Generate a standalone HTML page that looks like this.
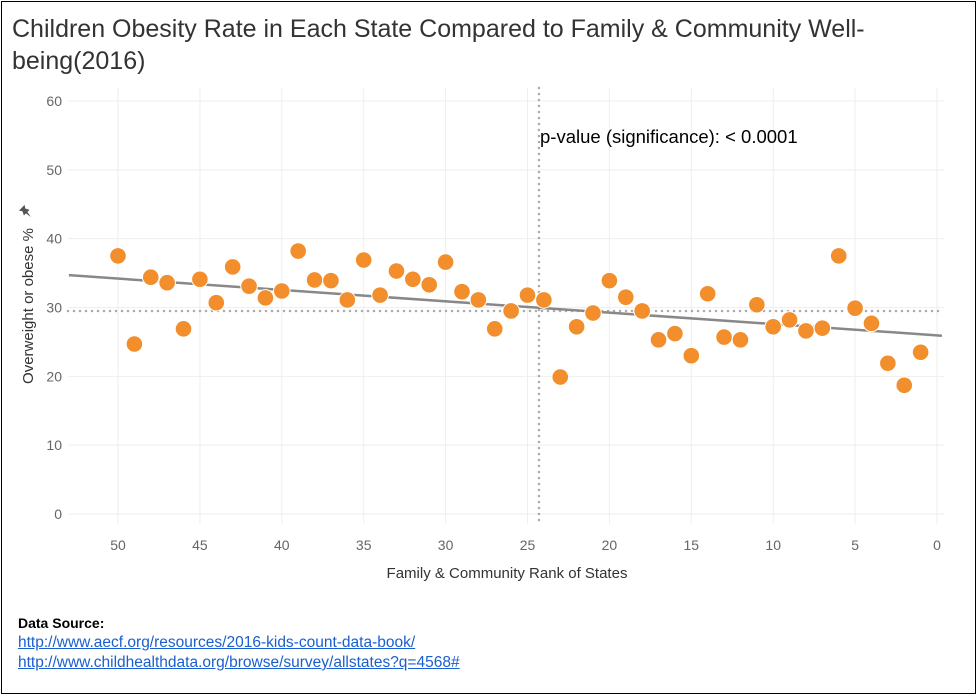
<!DOCTYPE html>
<html><head><meta charset="utf-8"><style>
body{margin:0;background:#fff;font-family:"Liberation Sans",sans-serif}
#frame{position:absolute;left:1px;top:1px;width:975px;height:693px;border:1px solid #000;box-sizing:border-box}
h1{position:absolute;left:12px;top:13px;margin:0;font-weight:normal;font-size:25px;line-height:32px;color:#333;width:880px}
.src{position:absolute;left:18px;font-size:15.5px}
a{color:#1a5fd0;text-decoration:underline}
</style></head><body>
<div id="frame"></div>
<h1>Children Obesity Rate in Each State Compared to Family &amp; Community Well-being(2016)</h1>
<svg id="c" width="979" height="697" style="position:absolute;left:0;top:0"></svg>
<div class="src" style="top:615px;font-size:14px;font-weight:bold;color:#000">Data Source:</div>
<div class="src" style="top:634px"><a>http://www.aecf.org/resources/2016-kids-count-data-book/</a></div>
<div class="src" style="top:654px"><a>http://www.childhealthdata.org/browse/survey/allstates?q=4568#</a></div>
<script>
const ranks=[50,49,48,47,46,45,44,43,42,41,40,39,38,37,36,35,34,33,32,31,30,29,28,27,26,25,24,23,22,21,20,19,18,17,16,15,14,13,12,11,10,9,8,7,6,5,4,3,2,1];
const obesity=[37.5,24.7,34.4,33.6,26.9,34.1,30.7,35.9,33.1,31.4,32.4,38.2,34.0,33.9,31.1,36.9,31.8,35.3,34.1,33.3,36.6,32.3,31.1,26.9,29.5,31.8,31.1,19.9,27.2,29.2,33.9,31.5,29.5,25.3,26.2,23.0,32.0,25.7,25.3,30.4,27.2,28.2,26.6,27.0,37.5,29.9,27.7,21.9,18.7,23.5];
const xTicks=[50,45,40,35,30,25,20,15,10,5,0];
const yTicks=[0,10,20,30,40,50,60];
const trend=[[53,34.7],[-0.3,25.9]];
const meanY=29.5, meanX=24.3;
const X=v=>937-v*16.38, Y=v=>514-v*6.883;
const svg=document.getElementById('c');const NS='http://www.w3.org/2000/svg';
function el(t,a,txt){const e=document.createElementNS(NS,t);for(const k in a)e.setAttribute(k,a[k]);if(txt!=null)e.textContent=txt;svg.appendChild(e);return e;}
yTicks.forEach(t=>{const g=el('line',{x1:68,x2:944,y1:Y(t),y2:Y(t),stroke:'#eee'});

const l=el('text',{x:62,y:Y(t)+5,'text-anchor':'end','font-size':14,fill:'#666'},t);
});
xTicks.forEach(t=>{const g=el('line',{x1:X(t),x2:X(t),y1:88,y2:524,stroke:'#eee'});

const l=el('text',{x:X(t),y:550,'text-anchor':'middle','font-size':14,fill:'#666'},t);
});
const ml=el('line',{x1:68,x2:944,y1:Y(meanY),y2:Y(meanY),stroke:'#aaa','stroke-width':2.5,'stroke-dasharray':'0 6','stroke-linecap':'round'});

const mv=el('line',{x1:X(meanX),x2:X(meanX),y1:88,y2:524,stroke:'#aaa','stroke-width':2.5,'stroke-dasharray':'0 6','stroke-linecap':'round'});

const tl=el('line',{x1:X(trend[0][0]),y1:Y(trend[0][1]),x2:X(trend[1][0]),y2:Y(trend[1][1]),stroke:'#888','stroke-width':2.5});

ranks.forEach((r,i)=>{const c=el('circle',{cx:X(r),cy:Y(obesity[i]),r:8.3,fill:'#f28e2b',stroke:'#fff','stroke-width':1});
});
const pv=el('text',{x:540,y:143,'font-size':18.5,fill:'#000'},'p-value (significance): < 0.0001');

const xt=el('text',{x:507,y:578,'text-anchor':'middle','font-size':15,fill:'#333'},'Family & Community Rank of States');

const yt=el('text',{x:0,y:0,'text-anchor':'middle','font-size':15,fill:'#333',transform:'translate(33,306) rotate(-90)'},'Overweight or obese %');

const pin=el('path',{d:'M22 206 l8 0 l-2 3 l2 4 l-3 0 l-1 6 l-1 -6 l-3 0 l2 -4z',fill:'#555',transform:'rotate(-45 26 212)'});

</script>
</body></html>
